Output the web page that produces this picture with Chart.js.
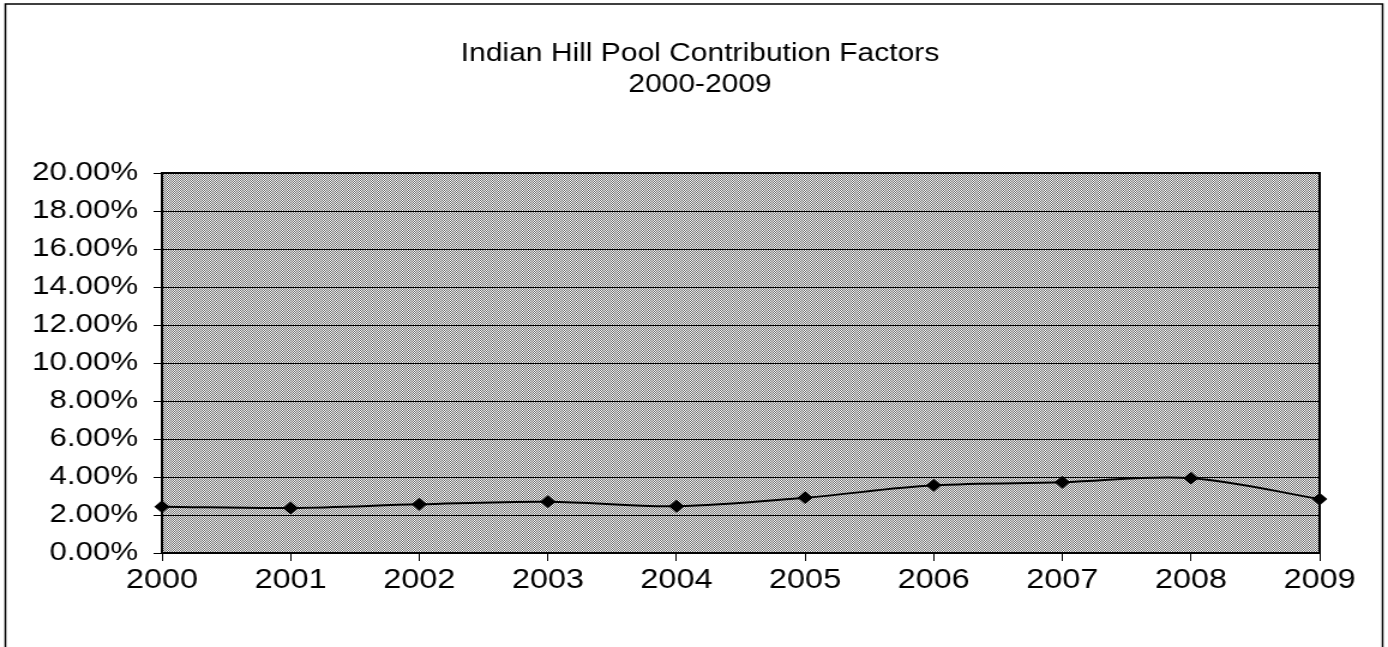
<!DOCTYPE html>
<html>
<head>
<meta charset="utf-8">
<script src="https://cdn.jsdelivr.net/npm/chart.js@4/dist/chart.umd.min.js"></script>
<style>
  html, body { margin: 0; padding: 0; background: #fff; overflow: hidden; }
  #wrap { width: 1388px; height: 647px; overflow: hidden; }
  /* the scanned original is stretched horizontally; reproduce that aspect */
  #c { width: 1157px; height: 647px; transform: scaleX(1.19965); transform-origin: 0 0; display: block; }
</style>
</head>
<body>
<div id="wrap"><canvas id="c" width="1157" height="647"></canvas></div>
<script>
// ---- data ----
const years = ['2000','2001','2002','2003','2004','2005','2006','2007','2008','2009'];
const contributionPct = [2.44, 2.37, 2.56, 2.70, 2.46, 2.91, 3.56, 3.72, 3.94, 2.84];
const titleLines = ['Indian Hill Pool Contribution Factors', '2000-2009'];
const yMin = 0, yMax = 20, yStep = 2;

const FONT = "'Liberation Sans', Arial, sans-serif";

function makePattern(ctx) {
  const t = document.createElement('canvas');
  t.width = 2; t.height = 2;
  const g = t.getContext('2d');
  g.fillStyle = '#ffffff'; g.fillRect(0, 0, 2, 2);
  g.fillStyle = '#666666';
  g.fillRect(0, 0, 1, 1);
  g.fillRect(1, 1, 1, 1);
  return ctx.createPattern(t, 'repeat');
}

const framePlugin = {
  id: 'frame',
  beforeDraw(chart) {
    const { ctx, chartArea: a } = chart;
    ctx.save();
    ctx.fillStyle = makePattern(ctx);
    ctx.fillRect(a.left, a.top, a.right - a.left, a.bottom - a.top);
    ctx.restore();
  },
  afterDraw(chart) {
    const { ctx, chartArea: a } = chart;
    ctx.save();
    ctx.strokeStyle = '#000';
    ctx.lineWidth = 2;
    ctx.strokeRect(a.left, a.top, a.right - a.left, a.bottom - a.top);
    ctx.lineWidth = 1.5;
    ctx.strokeRect(4.5, 4, chart.width - 9, chart.height - 3);
    ctx.restore();
  }
};

new Chart(document.getElementById('c'), {
  type: 'line',
  data: {
    labels: years,
    datasets: [{
      data: contributionPct,
      borderColor: '#000',
      borderWidth: 2,
      tension: 0.35,
      pointStyle: 'rectRot',
      pointRadius: 5,
      pointBackgroundColor: '#000',
      pointBorderColor: '#000',
      fill: false
    }]
  },
  options: {
    responsive: false,
    animation: false,
    devicePixelRatio: 1,
    layout: { padding: { left: 10, right: 0, top: 0, bottom: 0 } },
    plugins: {
      legend: { display: false },
      tooltip: { enabled: false },
      title: {
        display: true,
        text: titleLines,
        color: '#000',
        font: { family: FONT, size: 25, weight: 'normal', lineHeight: 1.24 },
        padding: { top: 39, bottom: 72 }
      }
    },
    scales: {
      x: {
        type: 'category',
        offset: false,
        afterFit(scale) { scale.height = 94; },
        grid: { display: true, drawOnChartArea: false, drawTicks: true, tickLength: 8, color: '#000', lineWidth: 1 },
        border: { display: true, color: '#000', width: 2 },
        ticks: { color: '#000', font: { family: FONT, size: 27 }, padding: 3, maxRotation: 0, autoSkip: false }
      },
      y: {
        min: yMin, max: yMax,
        afterFit(scale) { scale.width = 125; },
        grid: { color: '#000', lineWidth: 1, tickLength: 7, drawTicks: true },
        border: { display: true, color: '#000', width: 2 },
        ticks: {
          stepSize: yStep,
          color: '#000',
          padding: 13,
          font: { family: FONT, size: 26 },
          callback: v => Number(v).toFixed(2) + '%'
        }
      },
      yRightSpace: {
        position: 'right',
        min: yMin, max: yMax,
        afterFit(scale) { scale.width = 57; },
        grid: { display: false },
        border: { display: false },
        ticks: { display: false }
      }
    }
  },
  plugins: [framePlugin]
});
</script>
</body>
</html>
